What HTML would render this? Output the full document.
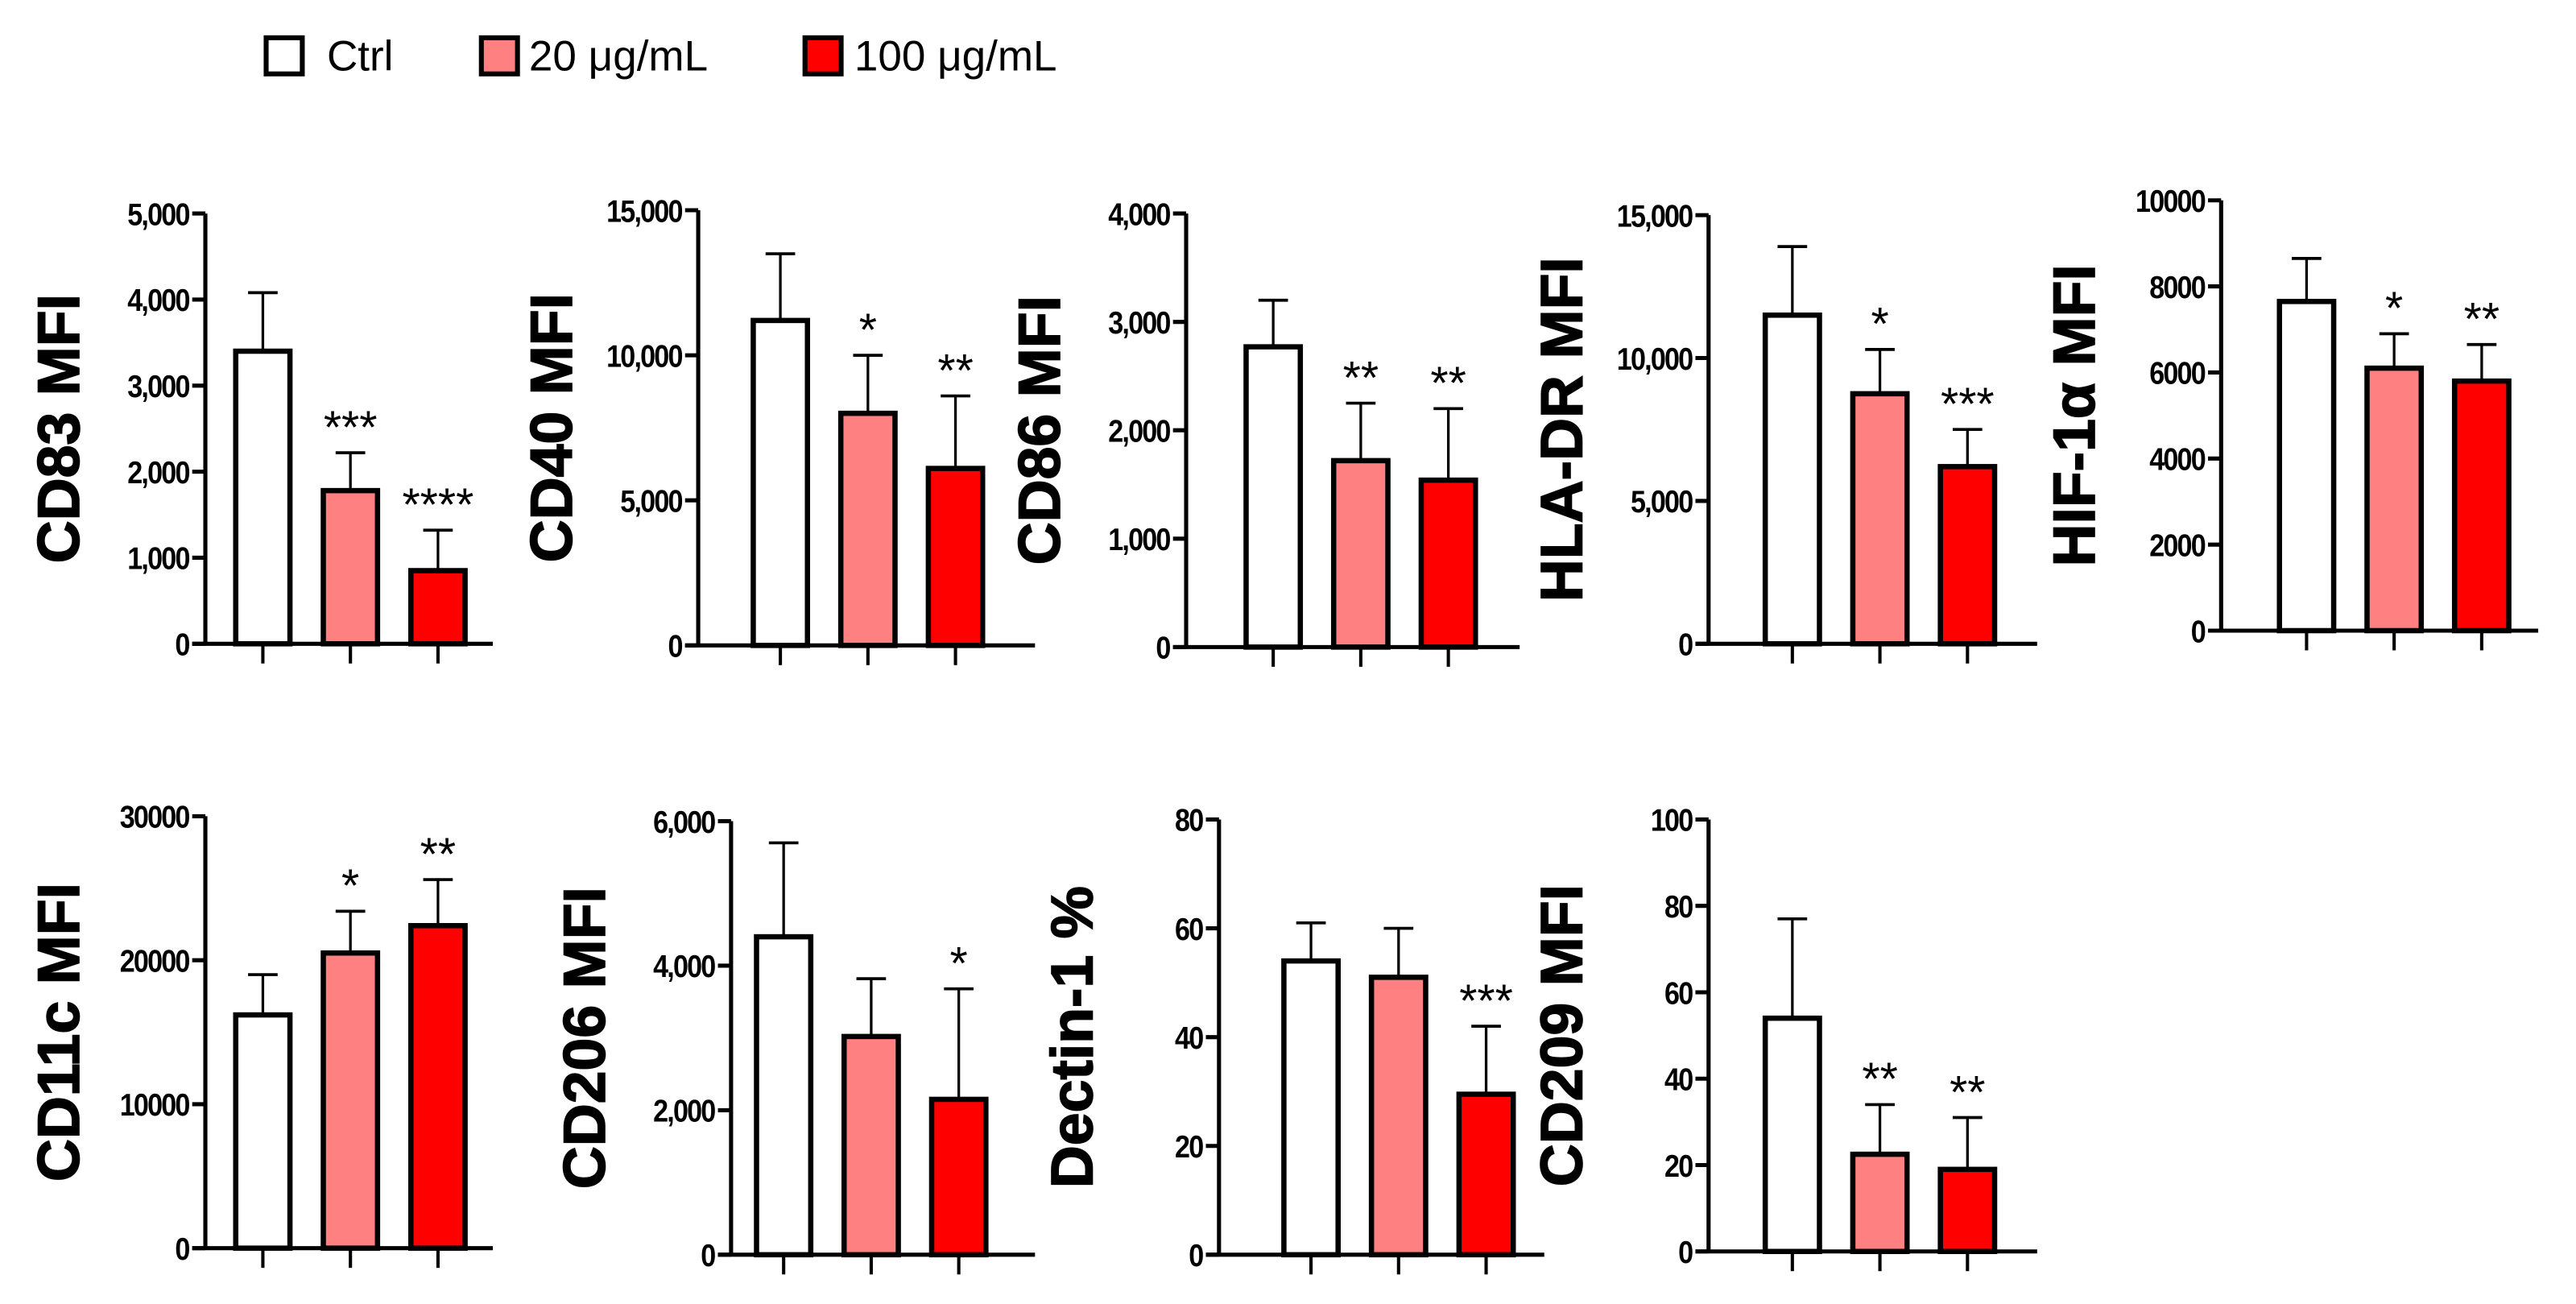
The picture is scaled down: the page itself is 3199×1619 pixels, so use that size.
<!DOCTYPE html>
<html><head><meta charset="utf-8"><style>
html,body{margin:0;padding:0;background:#fff;}
svg{display:block;font-family:"Liberation Sans",Arial,sans-serif;}
</style></head><body>
<svg id="fig" width="3199" height="1619" viewBox="0 0 1568 794" preserveAspectRatio="none">
<g>
  <rect x="162" y="23" width="22" height="22" fill="#fff" stroke="#000" stroke-width="3"/>
  <text x="199" y="43" font-size="26">Ctrl</text>
  <rect x="293" y="23" width="22" height="22" fill="#ff8080" stroke="#000" stroke-width="3"/>
  <text x="322" y="43" font-size="26">20 μg/mL</text>
  <rect x="490" y="23" width="22" height="22" fill="#ff0000" stroke="#000" stroke-width="3"/>
  <text x="520" y="43" font-size="26">100 μg/mL</text>
</g>
</svg>
<script>
const panelTitles = ["CD83 MFI","CD40 MFI","CD86 MFI","HLA-DR MFI","HIF-1α MFI","CD11c MFI","CD206 MFI","Dectin-1 %","CD209 MFI"];
const yMax = [5000,15000,4000,15000,10000,30000,6000,80,100];
const yStep = [1000,5000,1000,5000,2000,10000,2000,20,20];
const tickComma = [true,true,true,true,false,false,true,false,false];
const meanValues = [
  [3400,1780,850],[11200,8000,6100],[2770,1720,1540],[11500,8750,6200],[7650,6100,5800],
  [16200,20500,22400],[4400,3020,2150],[54,51,29.5],[54,22.5,19]
];
const errTops = [
  [4080,2220,1320],[13500,10000,8600],[3200,2250,2200],[13900,10300,7500],[8650,6900,6650],
  [19000,23400,25600],[5700,3820,3680],[61,60,42],[77,34,31]
];
const sigLabels = [
  ["","***","****"],["","*","**"],["","**","**"],["","*","***"],["","*","**"],
  ["","*","**"],["","","*"],["","","***"],["","**","**"]
];
// layout (not data)
const layout = [
  {ax:125,top:130,zero:392,end:300,bx:160},
  {ax:425,top:128,zero:393,end:630,bx:475},
  {ax:722,top:130,zero:394,end:925,bx:775},
  {ax:1040,top:131,zero:392,end:1240,bx:1091},
  {ax:1352,top:122,zero:384,end:1545,bx:1404},
  {ax:125,top:497,zero:760,end:300,bx:160},
  {ax:445,top:500,zero:764,end:630,bx:477},
  {ax:742,top:499,zero:764,end:940,bx:798},
  {ax:1040,top:499,zero:762,end:1240,bx:1091}
];
const fills = ["#ffffff","#ff8080","#ff0000"];
const NS="http://www.w3.org/2000/svg";
const svg=document.getElementById('fig');
function mk(tag,attrs,parent){const e=document.createElementNS(NS,tag);for(const k in attrs)e.setAttribute(k,attrs[k]);parent.appendChild(e);return e;}
function fmt(v,c){return c? v.toLocaleString('en-US'):String(v);}
panelTitles.forEach((title,p)=>{
  const L=layout[p];
  const y=v=>L.zero-(v/yMax[p])*(L.zero-L.top);
  const g=mk('g',{},svg);
  
  
  const ya=mk('line',{x1:L.ax,x2:L.ax,y1:L.top,y2:L.zero,stroke:'#000','stroke-width':2.5},g);
  
  
  for(let v=0;v<=yMax[p];v+=yStep[p]){
    const t=mk('line',{x1:L.ax-8,x2:L.ax,y1:y(v),y2:y(v),stroke:'#000','stroke-width':2.5},g);
    
    
    const tl=mk('text',{x:L.ax-10,y:y(v)+7,'font-size':19,'font-weight':'bold','text-anchor':'end','letter-spacing':'-1',transform:`translate(${(L.ax-10)*0.12},0) scale(0.88,1)`},g);
    tl.textContent=fmt(v,tickComma[p]);
    
    
  }
  const xa=mk('line',{x1:L.ax-8,x2:L.end,y1:L.zero,y2:L.zero,stroke:'#000','stroke-width':2.5},g);
  
  
  const yt=mk('text',{x:0,y:0,'font-size':36,'font-weight':'bold','text-anchor':'middle',stroke:'#000','stroke-width':0.8,transform:`translate(${L.ax-77},${(L.top+L.zero)/2}) rotate(-90)`},g);
  yt.textContent=title;
  
  
  meanValues[p].forEach((m,i)=>{
    const cx=L.bx+i*53.3;
    const xt=mk('line',{x1:cx,x2:cx,y1:L.zero,y2:L.zero+12,stroke:'#000','stroke-width':2},g);
    
    
    const eb=mk('line',{x1:cx,x2:cx,y1:y(errTops[p][i]),y2:y(m),stroke:'#000','stroke-width':1.6},g);
    
    
    const ec=mk('line',{x1:cx-9,x2:cx+9,y1:y(errTops[p][i]),y2:y(errTops[p][i]),stroke:'#000','stroke-width':1.8},g);
    
    
    const b=mk('rect',{x:cx-16.5,y:y(m),width:33,height:L.zero-y(m),fill:fills[i],stroke:'#000','stroke-width':3.2},g);
    
    
    if(sigLabels[p][i]){
      const s=mk('text',{x:cx,y:y(errTops[p][i])-6,'font-size':28,'text-anchor':'middle'},g);
      s.textContent=sigLabels[p][i];
      
      
    }
  });
});
</script>
</body></html>
